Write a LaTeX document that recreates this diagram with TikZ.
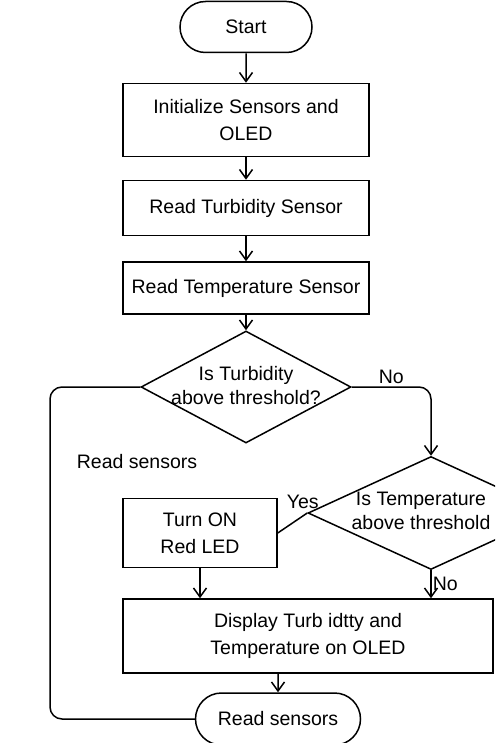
\documentclass[tikz,border=0pt]{standalone}
\usepackage{fontspec}
\setmainfont{Liberation Sans}
\usetikzlibrary{positioning, shapes.geometric, shapes.misc, arrows.meta}

\tikzset{
  flow/.style={draw, line width=1.5pt, font=\fontsize{19.5}{27}\selectfont, align=center, inner sep=0pt},
  procbox/.style={flow, rectangle},
  termbox/.style={flow, rounded rectangle},
  decision/.style={flow, diamond},
  dtext/.style={font=\fontsize{19.5}{24}\selectfont, align=center, inner sep=0pt},
  conn/.style={line width=1.5pt, -{Straight Barb[length=9pt, width=13pt]}},
  plainconn/.style={line width=1.5pt}
}

\begin{document}
\begin{tikzpicture}[x=1pt, y=-1pt]
		\useasboundingbox (0, 0) rectangle (495, 743);
		\clip (0, 0) rectangle (495, 743);
		% main column
		\node[termbox, minimum width=132pt, minimum height=51pt] (start) at (246, 27) {Start};
		\node[procbox, minimum width=246pt, minimum height=73pt] (init) at (246, 120) {Initialize Sensors and\\OLED};
		\node[procbox, minimum width=246pt, minimum height=55pt] (rturb) at (246, 208) {Read Turbidity Sensor};
		\node[procbox, minimum width=246pt, minimum height=52pt] (rtemp) at (246, 288) {Read Temperature Sensor};
		\node[decision, minimum width=210pt, minimum height=112pt] (turb) at (246, 387) {};
		\node[dtext] (turbtxt) at (246, 386) {Is Turbidity\\above threshold?};
		\node[decision, minimum width=246pt, minimum height=113pt] (temp) at (431, 513) {};
		\node[dtext] (temptxt) at (421, 511) {Is Temperature\\above threshold};
		\node[procbox, minimum width=154pt, minimum height=69pt] (led) at (200, 533) {Turn ON\\Red LED};
		\node[procbox, minimum width=370pt, minimum height=74pt] (disp) at (308, 636) {Display Turb idtty and\\Temperature on OLED};
		\node[termbox, minimum width=165pt, minimum height=52pt] (rs) at (278, 719) {Read sensors};
		\node[dtext] (rslabel) at (137, 462) {Read sensors};
		\coordinate (loop) at (50, 387);
		% connectors
		\draw[conn] (start) -- (init);
		\draw[conn] (init) -- (rturb);
		\draw[conn] (rturb) -- (rtemp);
		\draw[conn] (rtemp) -- (turb);
		\draw[conn, rounded corners=12pt] (turb.east) -| (temp.north) node[pos=0.25, above, dtext, yshift=3pt] {No};
		\draw[plainconn] (temp.west) -- (led.east) node[pos=0.15, above, dtext, yshift=7pt] {Yes};
		\draw[conn] (led) -- (led |- disp.north);
		\draw[conn] (temp.south) -- (temp.south |- disp.north) node[midway, right, dtext, xshift=1pt] {No};
		\draw[conn] (disp.south -| rs) -- (rs);
		\draw[plainconn, rounded corners=12pt] (rs.west) -| (loop) -- (turb.west);
	\end{tikzpicture}
\end{document}
